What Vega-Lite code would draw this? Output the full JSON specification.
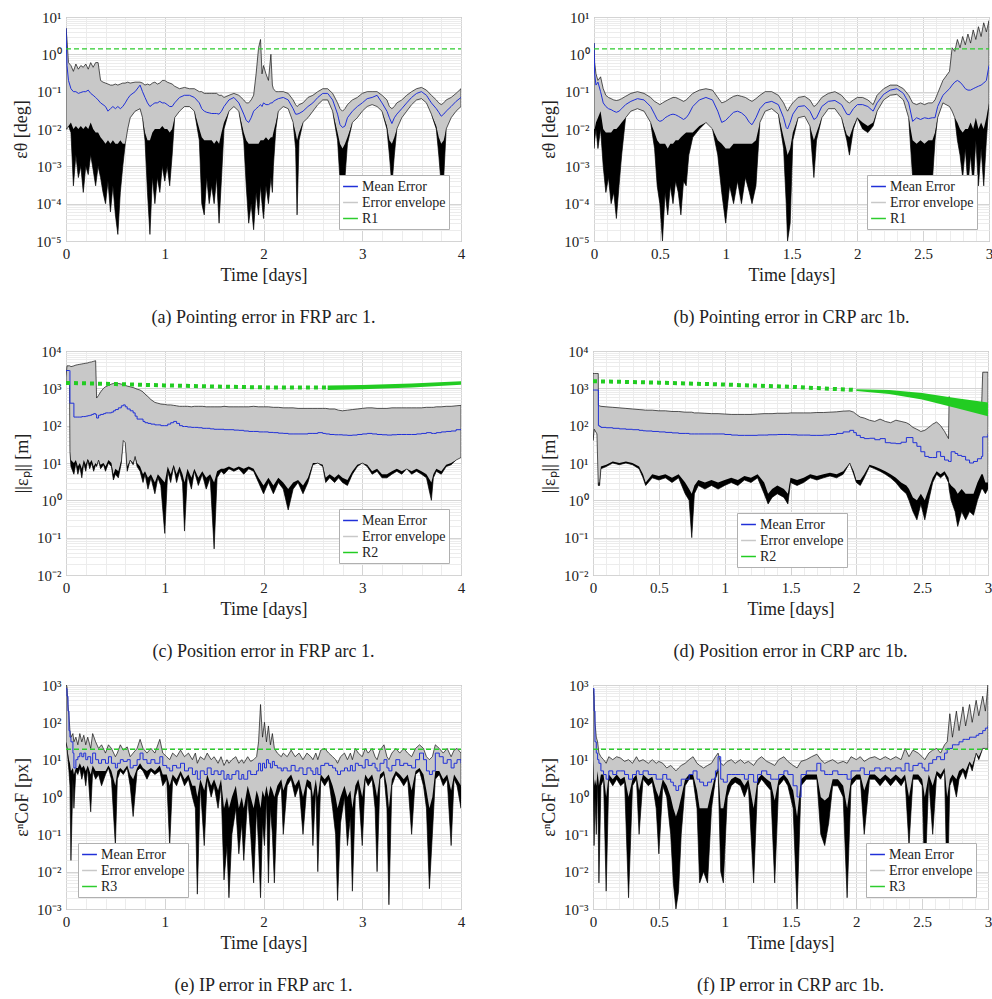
{
"$schema": "https://vega.github.io/schema/vega-lite/v6.json",
"padding": {"left": 12, "top": 9, "right": 2, "bottom": 2},
"datasets": {
"a": [
{"x":0,"h":5,"m":5,"l":0.01,"d":0.01},{"x":0.01,"h":2.5,"m":0.5,"l":0.01,"d":0.01},{"x":0.025,"h":0.6,"m":0.2,"l":0.012,"d":0.012},{"x":0.05,"h":0.5,"m":0.12,"l":0.008,"d":0.015},{"x":0.075,"h":0.35,"m":0.1,"l":0.0003,"d":0.01},{"x":0.1,"h":0.55,"m":0.1,"l":0.002,"d":0.012},{"x":0.125,"h":0.4,"m":0.09,"l":0.0005,"d":0.01},{"x":0.15,"h":0.5,"m":0.095,"l":0.001,"d":0.012},{"x":0.175,"h":0.45,"m":0.1,"l":0.0002,"d":0.01},{"x":0.2,"h":0.55,"m":0.1,"l":0.001,"d":0.012},{"x":0.225,"h":0.4,"m":0.11,"l":0.0006,"d":0.01},{"x":0.25,"h":0.6,"m":0.09,"l":0.002,"d":0.015},{"x":0.275,"h":0.45,"m":0.08,"l":0.0008,"d":0.01},{"x":0.3,"h":0.6,"m":0.07,"l":0.0003,"d":0.008},{"x":0.325,"h":0.6,"m":0.06,"l":0.001,"d":0.008},{"x":0.35,"h":0.2,"m":0.05,"l":0.0005,"d":0.006},{"x":0.375,"h":0.18,"m":0.045,"l":0.0002,"d":0.005},{"x":0.4,"h":0.17,"m":0.04,"l":0.0001,"d":0.004},{"x":0.425,"h":0.16,"m":0.03,"l":0.0004,"d":0.005},{"x":0.45,"h":0.15,"m":0.035,"l":0.00006,"d":0.004},{"x":0.475,"h":0.15,"m":0.04,"l":0.0003,"d":0.005},{"x":0.5,"h":0.16,"m":0.035,"l":0.00005,"d":0.004},{"x":0.525,"h":0.15,"m":0.04,"l":0.000015,"d":0.004},{"x":0.55,"h":0.16,"m":0.035,"l":0.0002,"d":0.005},{"x":0.575,"h":0.17,"m":0.04,"l":0.001,"d":0.004},{"x":0.6,"h":0.17,"m":0.05,"l":0.004,"d":0.004},{"x":0.625,"h":0.18,"m":0.065,"l":0.01,"d":0.01},{"x":0.65,"h":0.17,"m":0.08,"l":0.02,"d":0.02},{"x":0.7,"h":0.18,"m":0.1,"l":0.03,"d":0.03},{"x":0.75,"h":0.18,"m":0.15,"l":0.035,"d":0.035},{"x":0.775,"h":0.17,"m":0.1,"l":0.02,"d":0.02},{"x":0.8,"h":0.15,"m":0.07,"l":0.005,"d":0.008},{"x":0.825,"h":0.16,"m":0.05,"l":0.0002,"d":0.005},{"x":0.85,"h":0.15,"m":0.04,"l":0.000015,"d":0.005},{"x":0.875,"h":0.17,"m":0.045,"l":0.0005,"d":0.008},{"x":0.9,"h":0.18,"m":0.05,"l":0.0001,"d":0.01},{"x":0.925,"h":0.16,"m":0.05,"l":0.0005,"d":0.01},{"x":0.95,"h":0.17,"m":0.055,"l":0.0002,"d":0.01},{"x":0.975,"h":0.2,"m":0.05,"l":0.001,"d":0.012},{"x":1,"h":0.2,"m":0.05,"l":0.0004,"d":0.01},{"x":1.025,"h":0.18,"m":0.045,"l":0.001,"d":0.01},{"x":1.05,"h":0.17,"m":0.04,"l":0.0003,"d":0.008},{"x":1.075,"h":0.16,"m":0.04,"l":0.002,"d":0.01},{"x":1.1,"h":0.14,"m":0.05,"l":0.02,"d":0.02},{"x":1.15,"h":0.12,"m":0.07,"l":0.03,"d":0.03},{"x":1.2,"h":0.13,"m":0.08,"l":0.04,"d":0.04},{"x":1.25,"h":0.12,"m":0.08,"l":0.04,"d":0.04},{"x":1.3,"h":0.12,"m":0.07,"l":0.03,"d":0.03},{"x":1.35,"h":0.1,"m":0.05,"l":0.005,"d":0.01},{"x":1.375,"h":0.1,"m":0.035,"l":0.0001,"d":0.006},{"x":1.4,"h":0.09,"m":0.03,"l":0.00005,"d":0.005},{"x":1.425,"h":0.09,"m":0.028,"l":0.0005,"d":0.005},{"x":1.45,"h":0.09,"m":0.027,"l":0.0001,"d":0.005},{"x":1.475,"h":0.09,"m":0.026,"l":0.0003,"d":0.005},{"x":1.5,"h":0.09,"m":0.026,"l":0.0001,"d":0.004},{"x":1.525,"h":0.09,"m":0.026,"l":0.0005,"d":0.005},{"x":1.55,"h":0.08,"m":0.025,"l":0.00003,"d":0.004},{"x":1.575,"h":0.08,"m":0.03,"l":0.0005,"d":0.008},{"x":1.6,"h":0.07,"m":0.04,"l":0.01,"d":0.015},{"x":1.65,"h":0.08,"m":0.06,"l":0.03,"d":0.03},{"x":1.7,"h":0.09,"m":0.07,"l":0.04,"d":0.04},{"x":1.75,"h":0.08,"m":0.05,"l":0.03,"d":0.03},{"x":1.8,"h":0.06,"m":0.025,"l":0.005,"d":0.008},{"x":1.825,"h":0.05,"m":0.017,"l":0.0003,"d":0.005},{"x":1.85,"h":0.05,"m":0.015,"l":0.00003,"d":0.004},{"x":1.875,"h":0.06,"m":0.02,"l":0.0001,"d":0.004},{"x":1.9,"h":0.08,"m":0.03,"l":0.00002,"d":0.004},{"x":1.925,"h":0.3,"m":0.035,"l":0.0002,"d":0.004},{"x":1.95,"h":1.5,"m":0.04,"l":0.00005,"d":0.004},{"x":1.97,"h":2.5,"m":0.045,"l":0.0003,"d":0.005},{"x":1.985,"h":0.3,"m":0.04,"l":0.0001,"d":0.005},{"x":2,"h":0.5,"m":0.05,"l":0.00004,"d":0.005},{"x":2.025,"h":0.3,"m":0.045,"l":0.0003,"d":0.006},{"x":2.05,"h":0.2,"m":0.045,"l":0.0001,"d":0.005},{"x":2.075,"h":1,"m":0.05,"l":0.0005,"d":0.006},{"x":2.09,"h":0.15,"m":0.05,"l":0.0002,"d":0.006},{"x":2.1,"h":0.12,"m":0.055,"l":0.001,"d":0.008},{"x":2.125,"h":0.1,"m":0.06,"l":0.01,"d":0.015},{"x":2.15,"h":0.1,"m":0.065,"l":0.03,"d":0.03},{"x":2.2,"h":0.1,"m":0.07,"l":0.04,"d":0.04},{"x":2.25,"h":0.09,"m":0.06,"l":0.035,"d":0.035},{"x":2.3,"h":0.06,"m":0.035,"l":0.015,"d":0.015},{"x":2.325,"h":0.045,"m":0.025,"l":0.003,"d":0.008},{"x":2.34,"h":0.04,"m":0.025,"l":0.00005,"d":0.005},{"x":2.36,"h":0.045,"m":0.026,"l":0.005,"d":0.008},{"x":2.4,"h":0.05,"m":0.03,"l":0.015,"d":0.015},{"x":2.45,"h":0.07,"m":0.04,"l":0.02,"d":0.02},{"x":2.5,"h":0.08,"m":0.05,"l":0.03,"d":0.03},{"x":2.55,"h":0.1,"m":0.07,"l":0.045,"d":0.045},{"x":2.6,"h":0.12,"m":0.09,"l":0.06,"d":0.06},{"x":2.65,"h":0.12,"m":0.09,"l":0.06,"d":0.06},{"x":2.7,"h":0.09,"m":0.06,"l":0.03,"d":0.03},{"x":2.75,"h":0.05,"m":0.025,"l":0.005,"d":0.008},{"x":2.775,"h":0.035,"m":0.013,"l":0.0004,"d":0.004},{"x":2.8,"h":0.03,"m":0.011,"l":0.0003,"d":0.003},{"x":2.825,"h":0.035,"m":0.012,"l":0.0005,"d":0.004},{"x":2.85,"h":0.045,"m":0.02,"l":0.004,"d":0.006},{"x":2.9,"h":0.06,"m":0.03,"l":0.015,"d":0.015},{"x":2.95,"h":0.07,"m":0.04,"l":0.02,"d":0.02},{"x":3,"h":0.09,"m":0.05,"l":0.03,"d":0.03},{"x":3.05,"h":0.1,"m":0.065,"l":0.04,"d":0.04},{"x":3.1,"h":0.1,"m":0.07,"l":0.045,"d":0.045},{"x":3.15,"h":0.1,"m":0.08,"l":0.04,"d":0.04},{"x":3.2,"h":0.08,"m":0.05,"l":0.03,"d":0.03},{"x":3.25,"h":0.06,"m":0.03,"l":0.01,"d":0.012},{"x":3.275,"h":0.04,"m":0.02,"l":0.002,"d":0.005},{"x":3.3,"h":0.035,"m":0.014,"l":0.0003,"d":0.004},{"x":3.325,"h":0.04,"m":0.02,"l":0.002,"d":0.006},{"x":3.35,"h":0.05,"m":0.025,"l":0.01,"d":0.01},{"x":3.4,"h":0.06,"m":0.035,"l":0.02,"d":0.02},{"x":3.45,"h":0.08,"m":0.05,"l":0.03,"d":0.03},{"x":3.5,"h":0.1,"m":0.07,"l":0.045,"d":0.045},{"x":3.55,"h":0.12,"m":0.09,"l":0.06,"d":0.06},{"x":3.6,"h":0.13,"m":0.1,"l":0.065,"d":0.065},{"x":3.65,"h":0.11,"m":0.08,"l":0.05,"d":0.05},{"x":3.7,"h":0.08,"m":0.05,"l":0.025,"d":0.025},{"x":3.75,"h":0.06,"m":0.035,"l":0.01,"d":0.012},{"x":3.775,"h":0.05,"m":0.028,"l":0.002,"d":0.006},{"x":3.8,"h":0.045,"m":0.022,"l":0.0003,"d":0.004},{"x":3.825,"h":0.05,"m":0.025,"l":0.0005,"d":0.005},{"x":3.85,"h":0.06,"m":0.03,"l":0.01,"d":0.01},{"x":3.9,"h":0.07,"m":0.04,"l":0.02,"d":0.02},{"x":3.95,"h":0.09,"m":0.055,"l":0.03,"d":0.03},{"x":4,"h":0.12,"m":0.07,"l":0.04,"d":0.04}
],
"b": [
{"x":0,"h":2,"m":2,"l":0.003,"d":0.01},{"x":0.005,"h":0.6,"m":0.3,"l":0.005,"d":0.01},{"x":0.015,"h":0.3,"m":0.15,"l":0.01,"d":0.015},{"x":0.03,"h":0.2,"m":0.18,"l":0.003,"d":0.02},{"x":0.05,"h":0.25,"m":0.1,"l":0.01,"d":0.03},{"x":0.07,"h":0.12,"m":0.05,"l":0.001,"d":0.01},{"x":0.09,"h":0.08,"m":0.04,"l":0.0002,"d":0.008},{"x":0.11,"h":0.07,"m":0.035,"l":0.0005,"d":0.008},{"x":0.13,"h":0.065,"m":0.033,"l":0.0001,"d":0.008},{"x":0.15,"h":0.06,"m":0.03,"l":0.0002,"d":0.01},{"x":0.17,"h":0.058,"m":0.028,"l":0.00004,"d":0.01},{"x":0.19,"h":0.06,"m":0.03,"l":0.0003,"d":0.012},{"x":0.21,"h":0.065,"m":0.035,"l":0.002,"d":0.015},{"x":0.24,"h":0.075,"m":0.045,"l":0.02,"d":0.02},{"x":0.28,"h":0.09,"m":0.055,"l":0.03,"d":0.03},{"x":0.33,"h":0.1,"m":0.065,"l":0.035,"d":0.035},{"x":0.38,"h":0.09,"m":0.06,"l":0.03,"d":0.03},{"x":0.43,"h":0.07,"m":0.04,"l":0.015,"d":0.015},{"x":0.46,"h":0.055,"m":0.025,"l":0.003,"d":0.008},{"x":0.48,"h":0.05,"m":0.018,"l":0.0003,"d":0.005},{"x":0.5,"h":0.045,"m":0.016,"l":0.0001,"d":0.004},{"x":0.52,"h":0.05,"m":0.017,"l":0.00001,"d":0.004},{"x":0.54,"h":0.055,"m":0.02,"l":0.0002,"d":0.004},{"x":0.56,"h":0.06,"m":0.022,"l":0.00005,"d":0.003},{"x":0.58,"h":0.065,"m":0.024,"l":0.0003,"d":0.004},{"x":0.6,"h":0.07,"m":0.025,"l":0.0001,"d":0.004},{"x":0.62,"h":0.07,"m":0.024,"l":0.0004,"d":0.005},{"x":0.64,"h":0.065,"m":0.022,"l":0.0002,"d":0.005},{"x":0.66,"h":0.06,"m":0.02,"l":0.00005,"d":0.006},{"x":0.68,"h":0.055,"m":0.018,"l":0.0004,"d":0.007},{"x":0.7,"h":0.06,"m":0.02,"l":0.0003,"d":0.008},{"x":0.72,"h":0.07,"m":0.025,"l":0.002,"d":0.008},{"x":0.75,"h":0.09,"m":0.04,"l":0.006,"d":0.008},{"x":0.8,"h":0.11,"m":0.06,"l":0.01,"d":0.012},{"x":0.85,"h":0.12,"m":0.07,"l":0.015,"d":0.015},{"x":0.9,"h":0.11,"m":0.06,"l":0.01,"d":0.01},{"x":0.94,"h":0.07,"m":0.03,"l":0.002,"d":0.005},{"x":0.97,"h":0.05,"m":0.015,"l":0.0002,"d":0.004},{"x":1,"h":0.055,"m":0.017,"l":0.00003,"d":0.003},{"x":1.03,"h":0.065,"m":0.022,"l":0.0003,"d":0.003},{"x":1.06,"h":0.075,"m":0.028,"l":0.0001,"d":0.004},{"x":1.09,"h":0.08,"m":0.03,"l":0.0004,"d":0.004},{"x":1.12,"h":0.075,"m":0.027,"l":0.0001,"d":0.004},{"x":1.15,"h":0.07,"m":0.022,"l":0.0005,"d":0.004},{"x":1.18,"h":0.06,"m":0.015,"l":0.0002,"d":0.004},{"x":1.2,"h":0.055,"m":0.013,"l":0.0001,"d":0.004},{"x":1.23,"h":0.065,"m":0.02,"l":0.0003,"d":0.005},{"x":1.26,"h":0.08,"m":0.035,"l":0.015,"d":0.015},{"x":1.3,"h":0.1,"m":0.05,"l":0.03,"d":0.03},{"x":1.35,"h":0.1,"m":0.055,"l":0.035,"d":0.035},{"x":1.4,"h":0.08,"m":0.045,"l":0.025,"d":0.025},{"x":1.44,"h":0.05,"m":0.02,"l":0.003,"d":0.006},{"x":1.46,"h":0.035,"m":0.011,"l":0.0001,"d":0.003},{"x":1.47,"h":0.03,"m":0.01,"l":0.00001,"d":0.002},{"x":1.49,"h":0.04,"m":0.015,"l":0.00003,"d":0.003},{"x":1.51,"h":0.05,"m":0.025,"l":0.005,"d":0.008},{"x":1.55,"h":0.07,"m":0.04,"l":0.02,"d":0.02},{"x":1.6,"h":0.075,"m":0.042,"l":0.022,"d":0.022},{"x":1.64,"h":0.06,"m":0.03,"l":0.012,"d":0.012},{"x":1.67,"h":0.04,"m":0.018,"l":0.0005,"d":0.005},{"x":1.69,"h":0.045,"m":0.02,"l":0.005,"d":0.008},{"x":1.73,"h":0.07,"m":0.04,"l":0.02,"d":0.02},{"x":1.78,"h":0.09,"m":0.055,"l":0.035,"d":0.035},{"x":1.83,"h":0.1,"m":0.058,"l":0.035,"d":0.035},{"x":1.88,"h":0.08,"m":0.045,"l":0.02,"d":0.02},{"x":1.92,"h":0.055,"m":0.025,"l":0.005,"d":0.007},{"x":1.94,"h":0.05,"m":0.024,"l":0.002,"d":0.006},{"x":1.97,"h":0.06,"m":0.035,"l":0.01,"d":0.012},{"x":2,"h":0.07,"m":0.045,"l":0.02,"d":0.02},{"x":2.04,"h":0.07,"m":0.045,"l":0.01,"d":0.015},{"x":2.08,"h":0.06,"m":0.04,"l":0.008,"d":0.012},{"x":2.12,"h":0.045,"m":0.03,"l":0.012,"d":0.015},{"x":2.15,"h":0.08,"m":0.05,"l":0.03,"d":0.03},{"x":2.2,"h":0.12,"m":0.085,"l":0.06,"d":0.06},{"x":2.25,"h":0.15,"m":0.11,"l":0.08,"d":0.08},{"x":2.3,"h":0.15,"m":0.12,"l":0.085,"d":0.085},{"x":2.35,"h":0.12,"m":0.09,"l":0.06,"d":0.06},{"x":2.39,"h":0.08,"m":0.05,"l":0.02,"d":0.02},{"x":2.42,"h":0.05,"m":0.016,"l":0.0005,"d":0.005},{"x":2.45,"h":0.045,"m":0.02,"l":0.0003,"d":0.004},{"x":2.48,"h":0.05,"m":0.018,"l":0.0005,"d":0.005},{"x":2.51,"h":0.045,"m":0.02,"l":0.0003,"d":0.004},{"x":2.54,"h":0.05,"m":0.019,"l":0.0005,"d":0.005},{"x":2.57,"h":0.05,"m":0.02,"l":0.0004,"d":0.005},{"x":2.59,"h":0.06,"m":0.02,"l":0.005,"d":0.008},{"x":2.61,"h":0.09,"m":0.04,"l":0.02,"d":0.02},{"x":2.65,"h":0.2,"m":0.08,"l":0.05,"d":0.05},{"x":2.7,"h":0.35,"m":0.12,"l":0.04,"d":0.04},{"x":2.72,"h":1.5,"m":0.15,"l":0.03,"d":0.03},{"x":2.74,"h":1.2,"m":0.18,"l":0.02,"d":0.02},{"x":2.76,"h":2.5,"m":0.2,"l":0.005,"d":0.015},{"x":2.78,"h":1.5,"m":0.18,"l":0.002,"d":0.01},{"x":2.8,"h":3,"m":0.15,"l":0.0005,"d":0.008},{"x":2.82,"h":1.8,"m":0.12,"l":0.003,"d":0.01},{"x":2.84,"h":3.5,"m":0.11,"l":0.0003,"d":0.01},{"x":2.86,"h":2,"m":0.11,"l":0.002,"d":0.015},{"x":2.88,"h":4.5,"m":0.12,"l":0.0003,"d":0.01},{"x":2.9,"h":2.5,"m":0.13,"l":0.005,"d":0.02},{"x":2.92,"h":5.5,"m":0.14,"l":0.0003,"d":0.01},{"x":2.94,"h":3,"m":0.15,"l":0.003,"d":0.015},{"x":2.96,"h":7,"m":0.17,"l":0.0003,"d":0.01},{"x":2.98,"h":4,"m":0.2,"l":0.005,"d":0.02},{"x":3,"h":8,"m":0.5,"l":0.05,"d":0.05}
],
"c": [
{"x":0,"h":2000,"m":3000,"l":1500,"d":1500},{"x":0.01,"h":4000,"m":3000,"l":1500,"d":1500},{"x":0.035,"h":4000,"m":3000,"l":1500,"d":1500},{"x":0.04,"h":4000,"m":400,"l":20,"d":20},{"x":0.05,"h":3800,"m":400,"l":8,"d":12},{"x":0.08,"h":4000,"m":170,"l":5,"d":10},{"x":0.1,"h":4200,"m":170,"l":10,"d":12},{"x":0.12,"h":4300,"m":170,"l":5,"d":8},{"x":0.14,"h":4400,"m":170,"l":8,"d":10},{"x":0.16,"h":4500,"m":175,"l":4,"d":7},{"x":0.18,"h":4600,"m":175,"l":10,"d":12},{"x":0.2,"h":4700,"m":180,"l":6,"d":9},{"x":0.22,"h":4800,"m":185,"l":12,"d":13},{"x":0.24,"h":5000,"m":190,"l":7,"d":10},{"x":0.26,"h":5100,"m":200,"l":10,"d":12},{"x":0.28,"h":5300,"m":210,"l":6,"d":8},{"x":0.3,"h":5500,"m":200,"l":9,"d":10},{"x":0.31,"h":550,"m":160,"l":8,"d":9},{"x":0.33,"h":650,"m":190,"l":12,"d":12},{"x":0.35,"h":800,"m":200,"l":7,"d":9},{"x":0.38,"h":1000,"m":210,"l":9,"d":10},{"x":0.4,"h":1100,"m":220,"l":6,"d":8},{"x":0.43,"h":1200,"m":220,"l":10,"d":12},{"x":0.46,"h":1300,"m":230,"l":8,"d":10},{"x":0.48,"h":1350,"m":250,"l":3.5,"d":5},{"x":0.5,"h":1400,"m":270,"l":5,"d":7},{"x":0.53,"h":1350,"m":300,"l":4,"d":6},{"x":0.56,"h":1300,"m":340,"l":10,"d":12},{"x":0.58,"h":1250,"m":360,"l":40,"d":40},{"x":0.6,"h":1200,"m":320,"l":35,"d":35},{"x":0.62,"h":1150,"m":280,"l":6,"d":8},{"x":0.65,"h":1100,"m":250,"l":12,"d":12},{"x":0.68,"h":1050,"m":220,"l":9,"d":10},{"x":0.7,"h":1000,"m":180,"l":15,"d":15},{"x":0.72,"h":950,"m":150,"l":8,"d":10},{"x":0.75,"h":900,"m":150,"l":6,"d":8},{"x":0.78,"h":800,"m":130,"l":3,"d":5},{"x":0.8,"h":700,"m":120,"l":5,"d":6},{"x":0.83,"h":600,"m":115,"l":2,"d":4},{"x":0.86,"h":500,"m":110,"l":4,"d":5},{"x":0.9,"h":420,"m":105,"l":1.5,"d":3},{"x":0.93,"h":400,"m":105,"l":4,"d":5},{"x":0.96,"h":380,"m":100,"l":2.5,"d":4},{"x":1,"h":370,"m":100,"l":0.13,"d":3},{"x":1.03,"h":360,"m":110,"l":6,"d":8},{"x":1.06,"h":360,"m":120,"l":3,"d":5},{"x":1.09,"h":350,"m":130,"l":8,"d":9},{"x":1.12,"h":340,"m":115,"l":3,"d":5},{"x":1.15,"h":330,"m":100,"l":6,"d":8},{"x":1.18,"h":330,"m":95,"l":3,"d":5},{"x":1.2,"h":330,"m":95,"l":0.15,"d":3},{"x":1.23,"h":330,"m":92,"l":5,"d":7},{"x":1.27,"h":320,"m":90,"l":2,"d":4},{"x":1.3,"h":330,"m":90,"l":6,"d":7},{"x":1.34,"h":330,"m":88,"l":2.5,"d":4},{"x":1.38,"h":330,"m":85,"l":5,"d":6},{"x":1.42,"h":320,"m":85,"l":2,"d":4},{"x":1.46,"h":320,"m":82,"l":4,"d":5},{"x":1.5,"h":320,"m":80,"l":0.05,"d":3},{"x":1.53,"h":320,"m":80,"l":4,"d":6},{"x":1.57,"h":320,"m":80,"l":6,"d":7},{"x":1.6,"h":330,"m":78,"l":5,"d":7},{"x":1.65,"h":320,"m":78,"l":7,"d":8},{"x":1.7,"h":320,"m":76,"l":6,"d":7},{"x":1.75,"h":320,"m":75,"l":7,"d":8},{"x":1.8,"h":320,"m":72,"l":5,"d":7},{"x":1.85,"h":320,"m":70,"l":7,"d":8},{"x":1.9,"h":330,"m":70,"l":6,"d":7},{"x":1.95,"h":320,"m":68,"l":3,"d":4},{"x":2,"h":320,"m":68,"l":1.5,"d":2.5},{"x":2.05,"h":320,"m":66,"l":3,"d":4},{"x":2.1,"h":310,"m":65,"l":1.5,"d":2.5},{"x":2.15,"h":310,"m":63,"l":3,"d":4},{"x":2.2,"h":300,"m":62,"l":2,"d":3},{"x":2.25,"h":300,"m":60,"l":0.55,"d":2},{"x":2.3,"h":300,"m":60,"l":2,"d":3},{"x":2.35,"h":290,"m":60,"l":3,"d":3.5},{"x":2.4,"h":290,"m":60,"l":1.5,"d":2.5},{"x":2.45,"h":290,"m":62,"l":3,"d":4},{"x":2.5,"h":290,"m":62,"l":9,"d":10},{"x":2.55,"h":290,"m":65,"l":10,"d":10},{"x":2.6,"h":290,"m":62,"l":8,"d":9},{"x":2.63,"h":290,"m":60,"l":3,"d":4},{"x":2.67,"h":280,"m":58,"l":4,"d":5},{"x":2.72,"h":280,"m":57,"l":3,"d":4},{"x":2.76,"h":260,"m":57,"l":4,"d":5},{"x":2.8,"h":250,"m":56,"l":3,"d":4},{"x":2.85,"h":260,"m":55,"l":2.5,"d":3.5},{"x":2.9,"h":270,"m":56,"l":5,"d":6},{"x":2.95,"h":280,"m":58,"l":8,"d":9},{"x":3,"h":290,"m":60,"l":10,"d":10},{"x":3.05,"h":300,"m":62,"l":8,"d":9},{"x":3.1,"h":300,"m":60,"l":5,"d":6},{"x":3.15,"h":290,"m":58,"l":6,"d":7},{"x":3.2,"h":290,"m":57,"l":4,"d":5},{"x":3.25,"h":290,"m":56,"l":4,"d":5},{"x":3.3,"h":300,"m":57,"l":5,"d":6},{"x":3.35,"h":300,"m":58,"l":6,"d":7},{"x":3.4,"h":300,"m":58,"l":5,"d":6},{"x":3.45,"h":300,"m":58,"l":7,"d":7},{"x":3.5,"h":300,"m":58,"l":5,"d":6},{"x":3.55,"h":300,"m":60,"l":6,"d":7},{"x":3.6,"h":300,"m":62,"l":5,"d":6},{"x":3.65,"h":310,"m":65,"l":4,"d":5},{"x":3.7,"h":310,"m":62,"l":1,"d":3},{"x":3.72,"h":310,"m":62,"l":4,"d":5},{"x":3.75,"h":320,"m":65,"l":6,"d":7},{"x":3.8,"h":320,"m":68,"l":5,"d":6},{"x":3.85,"h":330,"m":70,"l":8,"d":9},{"x":3.9,"h":330,"m":72,"l":9,"d":10},{"x":3.95,"h":340,"m":78,"l":12,"d":12},{"x":4,"h":350,"m":82,"l":14,"d":14}
],
"d": [
{"x":0,"h":2500,"m":900,"l":40,"d":40},{"x":0.01,"h":2500,"m":900,"l":80,"d":80},{"x":0.03,"h":2500,"m":900,"l":60,"d":60},{"x":0.04,"h":2500,"m":900,"l":2.5,"d":2.5},{"x":0.041,"h":350,"m":100,"l":2.5,"d":3},{"x":0.05,"h":340,"m":95,"l":2.5,"d":3},{"x":0.06,"h":330,"m":90,"l":7,"d":8},{"x":0.1,"h":320,"m":88,"l":8,"d":9},{"x":0.15,"h":310,"m":85,"l":10,"d":11},{"x":0.2,"h":300,"m":82,"l":9,"d":10},{"x":0.25,"h":290,"m":80,"l":10,"d":11},{"x":0.3,"h":280,"m":78,"l":9,"d":10},{"x":0.35,"h":270,"m":75,"l":7,"d":8},{"x":0.38,"h":265,"m":73,"l":4,"d":5},{"x":0.4,"h":260,"m":72,"l":2.5,"d":3},{"x":0.45,"h":260,"m":70,"l":4,"d":5},{"x":0.5,"h":250,"m":68,"l":3.5,"d":4.5},{"x":0.55,"h":250,"m":66,"l":4,"d":5},{"x":0.6,"h":240,"m":64,"l":3,"d":4},{"x":0.65,"h":240,"m":62,"l":4,"d":5},{"x":0.7,"h":230,"m":62,"l":1.5,"d":3},{"x":0.73,"h":230,"m":60,"l":1,"d":2},{"x":0.75,"h":230,"m":60,"l":0.1,"d":1.5},{"x":0.77,"h":220,"m":60,"l":1.5,"d":2.5},{"x":0.8,"h":220,"m":60,"l":2.5,"d":3.5},{"x":0.85,"h":215,"m":60,"l":2,"d":3},{"x":0.9,"h":210,"m":60,"l":2.5,"d":3.5},{"x":0.95,"h":210,"m":60,"l":2,"d":3},{"x":1,"h":205,"m":58,"l":2.5,"d":3.5},{"x":1.05,"h":200,"m":56,"l":3,"d":4},{"x":1.1,"h":200,"m":55,"l":2.5,"d":3.5},{"x":1.15,"h":200,"m":55,"l":3.5,"d":4.5},{"x":1.2,"h":200,"m":55,"l":3,"d":4},{"x":1.25,"h":205,"m":56,"l":4,"d":5},{"x":1.3,"h":210,"m":56,"l":1.5,"d":3},{"x":1.33,"h":210,"m":57,"l":0.8,"d":1.5},{"x":1.36,"h":210,"m":57,"l":1.2,"d":2},{"x":1.4,"h":215,"m":58,"l":1.5,"d":2.5},{"x":1.45,"h":215,"m":58,"l":1.2,"d":2},{"x":1.48,"h":215,"m":58,"l":0.8,"d":1.5},{"x":1.5,"h":220,"m":57,"l":3,"d":4},{"x":1.55,"h":220,"m":56,"l":2.5,"d":3.5},{"x":1.6,"h":220,"m":56,"l":3,"d":4},{"x":1.65,"h":220,"m":55,"l":4,"d":5},{"x":1.7,"h":225,"m":55,"l":3.5,"d":4.5},{"x":1.75,"h":225,"m":56,"l":4,"d":5},{"x":1.8,"h":230,"m":58,"l":4.5,"d":5.5},{"x":1.85,"h":235,"m":62,"l":4,"d":5},{"x":1.9,"h":245,"m":68,"l":5,"d":6},{"x":1.95,"h":250,"m":75,"l":10,"d":10},{"x":1.98,"h":230,"m":65,"l":5,"d":6},{"x":2,"h":200,"m":55,"l":3,"d":3.5},{"x":2.03,"h":170,"m":48,"l":2.5,"d":3.5},{"x":2.06,"h":160,"m":45,"l":4,"d":5},{"x":2.1,"h":140,"m":46,"l":8,"d":9},{"x":2.14,"h":130,"m":42,"l":7,"d":8},{"x":2.18,"h":150,"m":45,"l":6,"d":7},{"x":2.22,"h":130,"m":35,"l":5,"d":6},{"x":2.26,"h":120,"m":34,"l":4,"d":5},{"x":2.3,"h":140,"m":33,"l":3,"d":4},{"x":2.34,"h":130,"m":36,"l":2,"d":3},{"x":2.38,"h":120,"m":48,"l":1.5,"d":2.5},{"x":2.4,"h":110,"m":48,"l":1,"d":2},{"x":2.43,"h":90,"m":35,"l":0.5,"d":1.2},{"x":2.46,"h":80,"m":28,"l":0.3,"d":1},{"x":2.49,"h":70,"m":20,"l":0.8,"d":1.5},{"x":2.52,"h":75,"m":15,"l":0.3,"d":1},{"x":2.55,"h":90,"m":14,"l":1,"d":2},{"x":2.58,"h":110,"m":14,"l":3,"d":4},{"x":2.61,"h":125,"m":20,"l":5,"d":6},{"x":2.64,"h":100,"m":15,"l":4,"d":5},{"x":2.67,"h":70,"m":12,"l":5,"d":6},{"x":2.7,"h":45,"m":11,"l":3,"d":4},{"x":2.705,"h":600,"m":11,"l":2,"d":3},{"x":2.72,"h":400,"m":20,"l":1,"d":2.5},{"x":2.75,"h":380,"m":18,"l":0.5,"d":2},{"x":2.77,"h":350,"m":16,"l":0.2,"d":1.5},{"x":2.8,"h":330,"m":15,"l":0.5,"d":2},{"x":2.83,"h":300,"m":12,"l":0.3,"d":1.5},{"x":2.86,"h":280,"m":10,"l":0.5,"d":1.5},{"x":2.89,"h":260,"m":11,"l":0.4,"d":1.5},{"x":2.92,"h":240,"m":13,"l":1,"d":3},{"x":2.95,"h":230,"m":15,"l":2,"d":5},{"x":2.96,"h":2700,"m":50,"l":2,"d":5},{"x":2.98,"h":2700,"m":50,"l":1.5,"d":3},{"x":3,"h":2700,"m":60,"l":2,"d":3}
],
"e": [
{"x":0,"h":1000,"m":800,"l":30,"d":30},{"x":0.01,"h":900,"m":500,"l":20,"d":25},{"x":0.02,"h":300,"m":200,"l":10,"d":15},{"x":0.03,"h":150,"m":60,"l":5,"d":10},{"x":0.04,"h":60,"m":40,"l":2,"d":8},{"x":0.05,"h":40,"m":30,"l":0.02,"d":5},{"x":0.07,"h":50,"m":15,"l":3,"d":6},{"x":0.08,"h":30,"m":6,"l":0.5,"d":4},{"x":0.1,"h":40,"m":10,"l":5,"d":6},{"x":0.12,"h":25,"m":12,"l":4,"d":6},{"x":0.14,"h":50,"m":15,"l":6,"d":8},{"x":0.16,"h":30,"m":12,"l":3,"d":6},{"x":0.18,"h":45,"m":15,"l":5,"d":7},{"x":0.2,"h":25,"m":10,"l":2,"d":5},{"x":0.22,"h":40,"m":12,"l":6,"d":7},{"x":0.25,"h":20,"m":8,"l":0.4,"d":4},{"x":0.27,"h":50,"m":15,"l":5,"d":7},{"x":0.3,"h":30,"m":10,"l":3,"d":5},{"x":0.33,"h":20,"m":8,"l":4,"d":5},{"x":0.36,"h":25,"m":10,"l":2,"d":5},{"x":0.4,"h":15,"m":8,"l":4,"d":5},{"x":0.43,"h":25,"m":12,"l":6,"d":7},{"x":0.46,"h":20,"m":8,"l":3,"d":5},{"x":0.5,"h":12,"m":6,"l":0.05,"d":2},{"x":0.52,"h":15,"m":8,"l":3,"d":5},{"x":0.55,"h":25,"m":10,"l":5,"d":6},{"x":0.58,"h":18,"m":9,"l":4,"d":5},{"x":0.62,"h":22,"m":10,"l":6,"d":7},{"x":0.65,"h":12,"m":6,"l":2,"d":4},{"x":0.68,"h":15,"m":7,"l":0.3,"d":3},{"x":0.72,"h":20,"m":10,"l":5,"d":6},{"x":0.75,"h":35,"m":15,"l":6,"d":8},{"x":0.78,"h":20,"m":10,"l":5,"d":6},{"x":0.82,"h":15,"m":8,"l":3,"d":5},{"x":0.86,"h":20,"m":10,"l":5,"d":6},{"x":0.9,"h":15,"m":8,"l":4,"d":5},{"x":0.95,"h":35,"m":12,"l":5,"d":7},{"x":0.98,"h":15,"m":7,"l":2,"d":4},{"x":1.02,"h":12,"m":6,"l":3,"d":4},{"x":1.05,"h":10,"m":5,"l":0.05,"d":2},{"x":1.08,"h":15,"m":7,"l":3,"d":4},{"x":1.12,"h":12,"m":6,"l":2,"d":3},{"x":1.16,"h":18,"m":8,"l":4,"d":5},{"x":1.2,"h":12,"m":5,"l":2,"d":3},{"x":1.24,"h":15,"m":6,"l":3,"d":4},{"x":1.28,"h":10,"m":4,"l":1,"d":2},{"x":1.31,"h":15,"m":5,"l":0.5,"d":2},{"x":1.33,"h":8,"m":3,"l":0.0025,"d":1},{"x":1.36,"h":12,"m":5,"l":2,"d":3},{"x":1.4,"h":10,"m":4,"l":0.05,"d":1.5},{"x":1.43,"h":15,"m":6,"l":3,"d":4},{"x":1.47,"h":10,"m":4,"l":1,"d":2},{"x":1.5,"h":12,"m":5,"l":2,"d":3},{"x":1.54,"h":8,"m":4,"l":0.5,"d":1.5},{"x":1.57,"h":12,"m":5,"l":2,"d":3},{"x":1.6,"h":7,"m":3,"l":0.006,"d":0.5},{"x":1.63,"h":10,"m":4,"l":0.05,"d":1},{"x":1.65,"h":8,"m":3,"l":0.002,"d":0.5},{"x":1.68,"h":10,"m":4,"l":0.1,"d":1},{"x":1.72,"h":12,"m":5,"l":0.5,"d":2},{"x":1.75,"h":8,"m":3,"l":0.03,"d":0.5},{"x":1.78,"h":10,"m":4,"l":0.2,"d":1},{"x":1.8,"h":8,"m":3,"l":0.02,"d":0.5},{"x":1.84,"h":12,"m":5,"l":1,"d":2},{"x":1.87,"h":9,"m":4,"l":0.1,"d":1},{"x":1.9,"h":10,"m":4,"l":0.005,"d":0.5},{"x":1.93,"h":12,"m":5,"l":0.5,"d":1.5},{"x":1.95,"h":30,"m":8,"l":0.05,"d":1},{"x":1.97,"h":300,"m":5,"l":0.002,"d":0.5},{"x":1.99,"h":40,"m":8,"l":0.2,"d":1.5},{"x":2.01,"h":100,"m":6,"l":0.05,"d":1},{"x":2.03,"h":30,"m":10,"l":1,"d":2},{"x":2.05,"h":80,"m":8,"l":0.005,"d":1},{"x":2.07,"h":25,"m":6,"l":0.5,"d":2},{"x":2.09,"h":50,"m":9,"l":0.1,"d":1.5},{"x":2.11,"h":20,"m":7,"l":0.005,"d":1},{"x":2.14,"h":15,"m":6,"l":1,"d":2},{"x":2.18,"h":12,"m":5,"l":2,"d":3},{"x":2.2,"h":15,"m":6,"l":0.1,"d":1.5},{"x":2.24,"h":12,"m":5,"l":2,"d":3},{"x":2.28,"h":18,"m":7,"l":3,"d":4},{"x":2.32,"h":12,"m":5,"l":1,"d":2},{"x":2.36,"h":15,"m":6,"l":2,"d":3},{"x":2.4,"h":10,"m":4,"l":0.1,"d":1},{"x":2.44,"h":15,"m":6,"l":2,"d":3},{"x":2.48,"h":12,"m":5,"l":1.5,"d":2.5},{"x":2.5,"h":10,"m":4,"l":0.05,"d":1},{"x":2.53,"h":15,"m":6,"l":2,"d":3},{"x":2.55,"h":10,"m":4,"l":0.01,"d":1},{"x":2.58,"h":18,"m":7,"l":3,"d":4},{"x":2.62,"h":20,"m":8,"l":2,"d":3},{"x":2.66,"h":15,"m":7,"l":3,"d":4},{"x":2.7,"h":12,"m":6,"l":0.5,"d":2},{"x":2.73,"h":10,"m":5,"l":0.1,"d":1},{"x":2.75,"h":8,"m":4,"l":0.0017,"d":0.5},{"x":2.78,"h":12,"m":5,"l":0.2,"d":1},{"x":2.82,"h":15,"m":6,"l":1,"d":2},{"x":2.85,"h":10,"m":5,"l":0.05,"d":1},{"x":2.88,"h":15,"m":7,"l":0.3,"d":1.5},{"x":2.9,"h":10,"m":5,"l":0.003,"d":0.5},{"x":2.93,"h":20,"m":8,"l":1,"d":2},{"x":2.96,"h":15,"m":7,"l":2,"d":3},{"x":3,"h":12,"m":6,"l":0.05,"d":1},{"x":3.03,"h":20,"m":10,"l":3,"d":4},{"x":3.06,"h":15,"m":7,"l":2,"d":3},{"x":3.1,"h":20,"m":8,"l":3,"d":4},{"x":3.13,"h":12,"m":6,"l":0.5,"d":2},{"x":3.15,"h":10,"m":5,"l":0.01,"d":1},{"x":3.18,"h":18,"m":8,"l":3,"d":4},{"x":3.22,"h":25,"m":10,"l":4,"d":5},{"x":3.25,"h":12,"m":6,"l":0.5,"d":2},{"x":3.27,"h":10,"m":5,"l":0.0013,"d":0.5},{"x":3.3,"h":15,"m":7,"l":2,"d":3},{"x":3.34,"h":20,"m":10,"l":4,"d":5},{"x":3.38,"h":15,"m":7,"l":3,"d":4},{"x":3.42,"h":20,"m":8,"l":2,"d":3},{"x":3.46,"h":15,"m":7,"l":3,"d":4},{"x":3.5,"h":12,"m":6,"l":0.1,"d":1.5},{"x":3.54,"h":20,"m":10,"l":4,"d":5},{"x":3.58,"h":25,"m":15,"l":5,"d":6},{"x":3.62,"h":20,"m":10,"l":2,"d":4},{"x":3.65,"h":12,"m":5,"l":0.5,"d":1.5},{"x":3.68,"h":10,"m":4,"l":0.0035,"d":0.5},{"x":3.71,"h":12,"m":5,"l":0.1,"d":1},{"x":3.74,"h":25,"m":15,"l":3,"d":5},{"x":3.78,"h":20,"m":12,"l":4,"d":5},{"x":3.82,"h":15,"m":8,"l":2,"d":3},{"x":3.86,"h":20,"m":10,"l":3,"d":4},{"x":3.9,"h":12,"m":6,"l":0.05,"d":1.5},{"x":3.93,"h":18,"m":8,"l":3,"d":4},{"x":3.96,"h":20,"m":10,"l":2,"d":3},{"x":4,"h":15,"m":8,"l":0.5,"d":2}
],
"f": [
{"x":0,"h":800,"m":800,"l":10,"d":10},{"x":0.008,"h":500,"m":200,"l":0.05,"d":2},{"x":0.015,"h":100,"m":30,"l":1,"d":3},{"x":0.025,"h":40,"m":15,"l":0.1,"d":2},{"x":0.035,"h":30,"m":10,"l":3,"d":5},{"x":0.045,"h":15,"m":8,"l":0.005,"d":2},{"x":0.06,"h":12,"m":5,"l":2,"d":4},{"x":0.08,"h":10,"m":4,"l":3,"d":4},{"x":0.1,"h":8,"m":3,"l":0.003,"d":1},{"x":0.12,"h":12,"m":5,"l":3,"d":4},{"x":0.15,"h":10,"m":4,"l":2,"d":3},{"x":0.18,"h":12,"m":5,"l":3,"d":4},{"x":0.21,"h":11,"m":5,"l":2,"d":3},{"x":0.24,"h":9,"m":4,"l":2.5,"d":3.5},{"x":0.27,"h":10,"m":3,"l":0.002,"d":1},{"x":0.3,"h":8,"m":4,"l":2,"d":3},{"x":0.33,"h":12,"m":5,"l":3,"d":4},{"x":0.35,"h":9,"m":4,"l":0.1,"d":1.5},{"x":0.38,"h":10,"m":5,"l":3,"d":4},{"x":0.42,"h":8,"m":4,"l":2,"d":3},{"x":0.45,"h":10,"m":4,"l":2.5,"d":3.5},{"x":0.48,"h":8,"m":3,"l":0.5,"d":1.5},{"x":0.5,"h":9,"m":3,"l":0.03,"d":1},{"x":0.53,"h":8,"m":4,"l":2,"d":3},{"x":0.56,"h":6,"m":3,"l":1,"d":2},{"x":0.59,"h":7,"m":2.5,"l":0.1,"d":1},{"x":0.61,"h":6,"m":2,"l":0.005,"d":0.5},{"x":0.63,"h":5,"m":1.5,"l":0.001,"d":0.3},{"x":0.65,"h":6,"m":2,"l":0.003,"d":0.5},{"x":0.67,"h":7,"m":3,"l":0.1,"d":1},{"x":0.7,"h":8,"m":3,"l":2,"d":3},{"x":0.73,"h":10,"m":4,"l":3,"d":4},{"x":0.76,"h":12,"m":5,"l":3,"d":4},{"x":0.79,"h":8,"m":3,"l":0.5,"d":1.5},{"x":0.81,"h":7,"m":2.5,"l":0.005,"d":0.5},{"x":0.84,"h":6,"m":2,"l":0.01,"d":0.5},{"x":0.87,"h":7,"m":2.5,"l":0.005,"d":0.5},{"x":0.9,"h":8,"m":3,"l":0.5,"d":1.5},{"x":0.93,"h":12,"m":5,"l":3,"d":4},{"x":0.95,"h":15,"m":12,"l":5,"d":6},{"x":0.97,"h":8,"m":3,"l":0.01,"d":0.5},{"x":0.99,"h":7,"m":2.5,"l":0.005,"d":0.5},{"x":1.02,"h":9,"m":4,"l":1,"d":2},{"x":1.05,"h":10,"m":4,"l":2,"d":3},{"x":1.08,"h":8,"m":4,"l":2.5,"d":3.5},{"x":1.12,"h":10,"m":4,"l":2,"d":3},{"x":1.15,"h":8,"m":3,"l":1,"d":2},{"x":1.18,"h":9,"m":4,"l":2,"d":3},{"x":1.22,"h":7,"m":2.5,"l":0.005,"d":0.5},{"x":1.25,"h":10,"m":4,"l":2,"d":3},{"x":1.28,"h":12,"m":5,"l":3,"d":4},{"x":1.32,"h":9,"m":4,"l":2,"d":3},{"x":1.35,"h":8,"m":3,"l":1.5,"d":2.5},{"x":1.38,"h":7,"m":3,"l":0.005,"d":0.8},{"x":1.41,"h":10,"m":4,"l":2,"d":3},{"x":1.45,"h":12,"m":5,"l":3,"d":4},{"x":1.48,"h":9,"m":4,"l":2,"d":3},{"x":1.52,"h":7,"m":2,"l":0.5,"d":1.5},{"x":1.55,"h":6,"m":1,"l":0.001,"d":0.3},{"x":1.58,"h":9,"m":4,"l":2,"d":3},{"x":1.62,"h":10,"m":5,"l":3,"d":4},{"x":1.66,"h":12,"m":5,"l":3,"d":4},{"x":1.7,"h":14,"m":8,"l":3,"d":4},{"x":1.73,"h":10,"m":5,"l":0.1,"d":1},{"x":1.76,"h":8,"m":4,"l":0.05,"d":0.8},{"x":1.79,"h":9,"m":4,"l":0.2,"d":1},{"x":1.82,"h":10,"m":5,"l":2,"d":3},{"x":1.86,"h":8,"m":4,"l":2,"d":3},{"x":1.9,"h":9,"m":4,"l":1,"d":2},{"x":1.93,"h":8,"m":3,"l":0.002,"d":0.5},{"x":1.96,"h":12,"m":5,"l":2,"d":3},{"x":2,"h":10,"m":5,"l":3,"d":4},{"x":2.03,"h":12,"m":6,"l":3,"d":4},{"x":2.06,"h":9,"m":4,"l":0.1,"d":1.5},{"x":2.1,"h":11,"m":5,"l":3,"d":4},{"x":2.14,"h":12,"m":6,"l":3,"d":4},{"x":2.18,"h":10,"m":5,"l":2,"d":3},{"x":2.22,"h":12,"m":6,"l":3,"d":4},{"x":2.26,"h":10,"m":5,"l":2,"d":3},{"x":2.3,"h":12,"m":6,"l":3,"d":4},{"x":2.34,"h":10,"m":5,"l":2,"d":3},{"x":2.37,"h":20,"m":8,"l":3,"d":4},{"x":2.4,"h":12,"m":5,"l":0.05,"d":1},{"x":2.43,"h":18,"m":7,"l":3,"d":4},{"x":2.47,"h":15,"m":8,"l":3,"d":4},{"x":2.5,"h":12,"m":6,"l":2,"d":3},{"x":2.52,"h":10,"m":5,"l":0.005,"d":1},{"x":2.55,"h":15,"m":8,"l":3,"d":4},{"x":2.58,"h":18,"m":10,"l":0.1,"d":2},{"x":2.61,"h":20,"m":12,"l":4,"d":5},{"x":2.64,"h":15,"m":10,"l":3,"d":4},{"x":2.67,"h":25,"m":15,"l":5,"d":6},{"x":2.69,"h":30,"m":20,"l":0.002,"d":1},{"x":2.71,"h":170,"m":20,"l":2,"d":3},{"x":2.73,"h":40,"m":25,"l":3,"d":4},{"x":2.76,"h":200,"m":25,"l":1,"d":3},{"x":2.78,"h":60,"m":30,"l":3,"d":5},{"x":2.81,"h":260,"m":35,"l":5,"d":6},{"x":2.83,"h":80,"m":35,"l":3,"d":5},{"x":2.86,"h":300,"m":40,"l":8,"d":9},{"x":2.88,"h":100,"m":40,"l":5,"d":7},{"x":2.91,"h":390,"m":45,"l":15,"d":15},{"x":2.93,"h":150,"m":50,"l":10,"d":12},{"x":2.96,"h":500,"m":60,"l":20,"d":20},{"x":2.98,"h":200,"m":70,"l":20,"d":20},{"x":3,"h":1000,"m":80,"l":20,"d":20}
]
},
"vconcat": [
{"hconcat": [
{"width": 395, "height": 224, "title": {"text": "(a) Pointing error in FRP arc 1."}, "resolve": {"axis": {"x": "independent"}},
 "layer": [
  {"data": {"name": "a"}, "mark": {"type": "area", "stroke": "#111111", "strokeWidth": 0.7, "clip": true},
   "encoding": {
    "x": {"field": "x", "type": "quantitative", "scale": {"domain": [0, 4], "nice": false}, "axis": {"title": "Time [days]", "values": [0,1,2,3,4], "labelExpr": "''+datum.value", "gridColor": "#d4d4d4"}},
    "y": {"field": "l", "type": "quantitative", "scale": {"type": "log", "domain": [0.00001, 10]}, "axis": {"title": "εθ [deg]", "values": [0.00001,0.00002,0.00003,0.00004,0.00005,0.00006,0.00007,0.00008,0.00009,0.0001,0.0002,0.0003,0.0004,0.0005,0.0006,0.0007,0.0008,0.0009,0.001,0.002,0.003,0.004,0.005,0.006,0.007,0.008,0.009,0.01,0.02,0.03,0.04,0.05,0.06,0.07,0.08,0.09,0.1,0.2,0.3,0.4,0.5,0.6,0.7,0.8,0.9,1,2,3,4,5,6,7,8,9,10], "labelExpr": "abs(log(datum.value)/LN10-round(log(datum.value)/LN10))<0.001 ? '10'+(round(log(datum.value)/LN10)<0?'⁻':'')+['⁰','¹','²','³','⁴','⁵'][abs(round(log(datum.value)/LN10))] : ''", "gridColor": {"condition": {"test": "abs(log(datum.value)/LN10-round(log(datum.value)/LN10))<0.001", "value": "#d4d4d4"}, "value": "#ececec"}}},
    "y2": {"field": "h"},
    "color": {"datum": "Error envelope", "type": "nominal", "scale": {"domain": ["Mean Error", "Error envelope", "R1"], "range": ["#2030d8", "#c8c8c8", "#2ecc2e"]}, "legend": {"title": null, "orient": "bottom-right"}}}},
  {"data": {"name": "a"}, "mark": {"type": "area", "color": "#000000", "clip": true}, "encoding": {"x": {"field": "x", "type": "quantitative", "axis": {"orient": "top", "values": [0.2,0.4,0.6,0.8,1.2,1.4,1.6,1.8,2.2,2.4,2.6,2.8,3.2,3.4,3.6,3.8], "labels": false, "ticks": false, "domain": false, "title": null, "grid": true, "gridColor": "#ececec"}}, "y": {"field": "l", "type": "quantitative"}, "y2": {"field": "d"}}},
  {"data": {"name": "a"}, "mark": {"type": "line", "strokeWidth": 1, "clip": true}, "encoding": {"x": {"field": "x", "type": "quantitative", "axis": null}, "y": {"field": "m", "type": "quantitative"}, "color": {"datum": "Mean Error", "type": "nominal"}}},
  {"data": {"values": [{"x": 0, "r": 1.4}, {"x": 4, "r": 1.4}]}, "mark": {"type": "line", "strokeDash": [5, 3], "strokeWidth": 1.3, "clip": true}, "encoding": {"x": {"field": "x", "type": "quantitative", "axis": null}, "y": {"field": "r", "type": "quantitative"}, "color": {"datum": "R1", "type": "nominal"}}}
 ]},
{"width": 395, "height": 224, "title": {"text": "(b) Pointing error in CRP arc 1b."}, "resolve": {"axis": {"x": "independent"}},
 "layer": [
  {"data": {"name": "b"}, "mark": {"type": "area", "stroke": "#111111", "strokeWidth": 0.7, "clip": true},
   "encoding": {
    "x": {"field": "x", "type": "quantitative", "scale": {"domain": [0, 3], "nice": false}, "axis": {"title": "Time [days]", "values": [0,0.5,1,1.5,2,2.5,3], "labelExpr": "''+datum.value", "gridColor": "#d4d4d4"}},
    "y": {"field": "l", "type": "quantitative", "scale": {"type": "log", "domain": [0.00001, 10]}, "axis": {"title": "εθ [deg]", "values": [0.00001,0.00002,0.00003,0.00004,0.00005,0.00006,0.00007,0.00008,0.00009,0.0001,0.0002,0.0003,0.0004,0.0005,0.0006,0.0007,0.0008,0.0009,0.001,0.002,0.003,0.004,0.005,0.006,0.007,0.008,0.009,0.01,0.02,0.03,0.04,0.05,0.06,0.07,0.08,0.09,0.1,0.2,0.3,0.4,0.5,0.6,0.7,0.8,0.9,1,2,3,4,5,6,7,8,9,10], "labelExpr": "abs(log(datum.value)/LN10-round(log(datum.value)/LN10))<0.001 ? '10'+(round(log(datum.value)/LN10)<0?'⁻':'')+['⁰','¹','²','³','⁴','⁵'][abs(round(log(datum.value)/LN10))] : ''", "gridColor": {"condition": {"test": "abs(log(datum.value)/LN10-round(log(datum.value)/LN10))<0.001", "value": "#d4d4d4"}, "value": "#ececec"}}},
    "y2": {"field": "h"},
    "color": {"datum": "Error envelope", "type": "nominal", "scale": {"domain": ["Mean Error", "Error envelope", "R1"], "range": ["#2030d8", "#c8c8c8", "#2ecc2e"]}, "legend": {"title": null, "orient": "bottom-right"}}}},
  {"data": {"name": "b"}, "mark": {"type": "area", "color": "#000000", "clip": true}, "encoding": {"x": {"field": "x", "type": "quantitative", "axis": {"orient": "top", "values": [0.1,0.2,0.3,0.4,0.6,0.7,0.8,0.9,1.1,1.2,1.3,1.4,1.6,1.7,1.8,1.9,2.1,2.2,2.3,2.4,2.6,2.7,2.8,2.9], "labels": false, "ticks": false, "domain": false, "title": null, "grid": true, "gridColor": "#ececec"}}, "y": {"field": "l", "type": "quantitative"}, "y2": {"field": "d"}}},
  {"data": {"name": "b"}, "mark": {"type": "line", "strokeWidth": 1, "clip": true}, "encoding": {"x": {"field": "x", "type": "quantitative", "axis": null}, "y": {"field": "m", "type": "quantitative"}, "color": {"datum": "Mean Error", "type": "nominal"}}},
  {"data": {"values": [{"x": 0, "r": 1.4}, {"x": 3, "r": 1.4}]}, "mark": {"type": "line", "strokeDash": [5, 3], "strokeWidth": 1.3, "clip": true}, "encoding": {"x": {"field": "x", "type": "quantitative", "axis": null}, "y": {"field": "r", "type": "quantitative"}, "color": {"datum": "R1", "type": "nominal"}}}
 ]}
], "spacing": 74, "resolve": {"scale": {"color": "independent"}, "legend": {"color": "independent"}}},
{"hconcat": [
{"width": 395, "height": 224, "title": {"text": "(c) Position error in FRP arc 1."}, "resolve": {"axis": {"x": "independent"}},
 "layer": [
  {"data": {"name": "c"}, "mark": {"type": "area", "stroke": "#111111", "strokeWidth": 0.7, "clip": true},
   "encoding": {
    "x": {"field": "x", "type": "quantitative", "scale": {"domain": [0, 4], "nice": false}, "axis": {"title": "Time [days]", "values": [0,1,2,3,4], "labelExpr": "''+datum.value", "gridColor": "#d4d4d4"}},
    "y": {"field": "l", "type": "quantitative", "scale": {"type": "log", "domain": [0.01, 10000]}, "axis": {"title": "||εₚ|| [m]", "values": [0.01,0.02,0.03,0.04,0.05,0.06,0.07,0.08,0.09,0.1,0.2,0.3,0.4,0.5,0.6,0.7,0.8,0.9,1,2,3,4,5,6,7,8,9,10,20,30,40,50,60,70,80,90,100,200,300,400,500,600,700,800,900,1000,2000,3000,4000,5000,6000,7000,8000,9000,10000], "labelExpr": "abs(log(datum.value)/LN10-round(log(datum.value)/LN10))<0.001 ? '10'+(round(log(datum.value)/LN10)<0?'⁻':'')+['⁰','¹','²','³','⁴','⁵'][abs(round(log(datum.value)/LN10))] : ''", "gridColor": {"condition": {"test": "abs(log(datum.value)/LN10-round(log(datum.value)/LN10))<0.001", "value": "#d4d4d4"}, "value": "#ececec"}}},
    "y2": {"field": "h"},
    "color": {"datum": "Error envelope", "type": "nominal", "scale": {"domain": ["Mean Error", "Error envelope", "R2"], "range": ["#2030d8", "#c8c8c8", "#22cc22"]}, "legend": {"title": null, "orient": "bottom-right"}}}},
  {"data": {"name": "c"}, "mark": {"type": "area", "color": "#000000", "clip": true}, "encoding": {"x": {"field": "x", "type": "quantitative", "axis": {"orient": "top", "values": [0.2,0.4,0.6,0.8,1.2,1.4,1.6,1.8,2.2,2.4,2.6,2.8,3.2,3.4,3.6,3.8], "labels": false, "ticks": false, "domain": false, "title": null, "grid": true, "gridColor": "#ececec"}}, "y": {"field": "l", "type": "quantitative"}, "y2": {"field": "d"}}},
  {"data": {"name": "c"}, "mark": {"type": "line", "strokeWidth": 1, "interpolate": "step-after", "clip": true}, "encoding": {"x": {"field": "x", "type": "quantitative", "axis": null}, "y": {"field": "m", "type": "quantitative"}, "color": {"datum": "Mean Error", "type": "nominal"}}},
  {"data": {"values": [{"x": 0, "r": 1400}, {"x": 0.5, "r": 1300}, {"x": 1, "r": 1200}, {"x": 1.5, "r": 1120}, {"x": 2, "r": 1060}, {"x": 2.65, "r": 1050}]}, "mark": {"type": "line", "strokeDash": [4, 4], "strokeWidth": 4, "clip": true}, "encoding": {"x": {"field": "x", "type": "quantitative", "axis": null}, "y": {"field": "r", "type": "quantitative"}, "color": {"datum": "R2", "type": "nominal"}}},
  {"data": {"values": [{"x": 2.65, "rl": 900, "rh": 1200}, {"x": 3, "rl": 950, "rh": 1230}, {"x": 3.5, "rl": 1050, "rh": 1350}, {"x": 4, "rl": 1250, "rh": 1550}]}, "mark": {"type": "area", "clip": true}, "encoding": {"x": {"field": "x", "type": "quantitative", "axis": null}, "y": {"field": "rl", "type": "quantitative"}, "y2": {"field": "rh"}, "color": {"datum": "R2", "type": "nominal"}}}
 ]},
{"width": 395, "height": 224, "title": {"text": "(d) Position error in CRP arc 1b."}, "resolve": {"axis": {"x": "independent"}},
 "layer": [
  {"data": {"name": "d"}, "mark": {"type": "area", "stroke": "#111111", "strokeWidth": 0.7, "clip": true},
   "encoding": {
    "x": {"field": "x", "type": "quantitative", "scale": {"domain": [0, 3], "nice": false}, "axis": {"title": "Time [days]", "values": [0,0.5,1,1.5,2,2.5,3], "labelExpr": "''+datum.value", "gridColor": "#d4d4d4"}},
    "y": {"field": "l", "type": "quantitative", "scale": {"type": "log", "domain": [0.01, 10000]}, "axis": {"title": "||εₚ|| [m]", "values": [0.01,0.02,0.03,0.04,0.05,0.06,0.07,0.08,0.09,0.1,0.2,0.3,0.4,0.5,0.6,0.7,0.8,0.9,1,2,3,4,5,6,7,8,9,10,20,30,40,50,60,70,80,90,100,200,300,400,500,600,700,800,900,1000,2000,3000,4000,5000,6000,7000,8000,9000,10000], "labelExpr": "abs(log(datum.value)/LN10-round(log(datum.value)/LN10))<0.001 ? '10'+(round(log(datum.value)/LN10)<0?'⁻':'')+['⁰','¹','²','³','⁴','⁵'][abs(round(log(datum.value)/LN10))] : ''", "gridColor": {"condition": {"test": "abs(log(datum.value)/LN10-round(log(datum.value)/LN10))<0.001", "value": "#d4d4d4"}, "value": "#ececec"}}},
    "y2": {"field": "h"},
    "color": {"datum": "Error envelope", "type": "nominal", "scale": {"domain": ["Mean Error", "Error envelope", "R2"], "range": ["#2030d8", "#c8c8c8", "#22cc22"]}, "legend": {"title": null, "orient": "none", "legendX": 144, "legendY": 162}}}},
  {"data": {"name": "d"}, "mark": {"type": "area", "color": "#000000", "clip": true}, "encoding": {"x": {"field": "x", "type": "quantitative", "axis": {"orient": "top", "values": [0.1,0.2,0.3,0.4,0.6,0.7,0.8,0.9,1.1,1.2,1.3,1.4,1.6,1.7,1.8,1.9,2.1,2.2,2.3,2.4,2.6,2.7,2.8,2.9], "labels": false, "ticks": false, "domain": false, "title": null, "grid": true, "gridColor": "#ececec"}}, "y": {"field": "l", "type": "quantitative"}, "y2": {"field": "d"}}},
  {"data": {"name": "d"}, "mark": {"type": "line", "strokeWidth": 1, "interpolate": "step-after", "clip": true}, "encoding": {"x": {"field": "x", "type": "quantitative", "axis": null}, "y": {"field": "m", "type": "quantitative"}, "color": {"datum": "Mean Error", "type": "nominal"}}},
  {"data": {"values": [{"x": 0, "r": 1550}, {"x": 0.5, "r": 1420}, {"x": 1, "r": 1260}, {"x": 1.5, "r": 1100}, {"x": 2, "r": 900}]}, "mark": {"type": "line", "strokeDash": [4, 4], "strokeWidth": 4, "clip": true}, "encoding": {"x": {"field": "x", "type": "quantitative", "axis": null}, "y": {"field": "r", "type": "quantitative"}, "color": {"datum": "R2", "type": "nominal"}}},
  {"data": {"values": [{"x": 2, "rl": 850, "rh": 950}, {"x": 2.25, "rl": 700, "rh": 900}, {"x": 2.5, "rl": 500, "rh": 750}, {"x": 2.75, "rl": 300, "rh": 550}, {"x": 3, "rl": 180, "rh": 420}]}, "mark": {"type": "area", "clip": true}, "encoding": {"x": {"field": "x", "type": "quantitative", "axis": null}, "y": {"field": "rl", "type": "quantitative"}, "y2": {"field": "rh"}, "color": {"datum": "R2", "type": "nominal"}}}
 ]}
], "spacing": 74, "resolve": {"scale": {"color": "independent"}, "legend": {"color": "independent"}}},
{"hconcat": [
{"width": 395, "height": 224, "title": {"text": "(e) IP error in FRP arc 1."}, "resolve": {"axis": {"x": "independent"}},
 "layer": [
  {"data": {"name": "e"}, "mark": {"type": "area", "stroke": "#111111", "strokeWidth": 0.7, "clip": true},
   "encoding": {
    "x": {"field": "x", "type": "quantitative", "scale": {"domain": [0, 4], "nice": false}, "axis": {"title": "Time [days]", "values": [0,1,2,3,4], "labelExpr": "''+datum.value", "gridColor": "#d4d4d4"}},
    "y": {"field": "l", "type": "quantitative", "scale": {"type": "log", "domain": [0.001, 1000]}, "axis": {"title": "εⁿCoF [px]", "values": [0.001,0.002,0.003,0.004,0.005,0.006,0.007,0.008,0.009,0.01,0.02,0.03,0.04,0.05,0.06,0.07,0.08,0.09,0.1,0.2,0.3,0.4,0.5,0.6,0.7,0.8,0.9,1,2,3,4,5,6,7,8,9,10,20,30,40,50,60,70,80,90,100,200,300,400,500,600,700,800,900,1000], "labelExpr": "abs(log(datum.value)/LN10-round(log(datum.value)/LN10))<0.001 ? '10'+(round(log(datum.value)/LN10)<0?'⁻':'')+['⁰','¹','²','³','⁴','⁵'][abs(round(log(datum.value)/LN10))] : ''", "gridColor": {"condition": {"test": "abs(log(datum.value)/LN10-round(log(datum.value)/LN10))<0.001", "value": "#d4d4d4"}, "value": "#ececec"}}},
    "y2": {"field": "h"},
    "color": {"datum": "Error envelope", "type": "nominal", "scale": {"domain": ["Mean Error", "Error envelope", "R3"], "range": ["#2030d8", "#c8c8c8", "#2ecc2e"]}, "legend": {"title": null, "orient": "bottom-left"}}}},
  {"data": {"name": "e"}, "mark": {"type": "area", "color": "#000000", "clip": true}, "encoding": {"x": {"field": "x", "type": "quantitative", "axis": {"orient": "top", "values": [0.2,0.4,0.6,0.8,1.2,1.4,1.6,1.8,2.2,2.4,2.6,2.8,3.2,3.4,3.6,3.8], "labels": false, "ticks": false, "domain": false, "title": null, "grid": true, "gridColor": "#ececec"}}, "y": {"field": "l", "type": "quantitative"}, "y2": {"field": "d"}}},
  {"data": {"name": "e"}, "mark": {"type": "line", "strokeWidth": 1, "interpolate": "step-after", "clip": true}, "encoding": {"x": {"field": "x", "type": "quantitative", "axis": null}, "y": {"field": "m", "type": "quantitative"}, "color": {"datum": "Mean Error", "type": "nominal"}}},
  {"data": {"values": [{"x": 0, "r": 19}, {"x": 4, "r": 19}]}, "mark": {"type": "line", "strokeDash": [5, 3], "strokeWidth": 1.3, "clip": true}, "encoding": {"x": {"field": "x", "type": "quantitative", "axis": null}, "y": {"field": "r", "type": "quantitative"}, "color": {"datum": "R3", "type": "nominal"}}}
 ]},
{"width": 395, "height": 224, "title": {"text": "(f) IP error in CRP arc 1b."}, "resolve": {"axis": {"x": "independent"}},
 "layer": [
  {"data": {"name": "f"}, "mark": {"type": "area", "stroke": "#111111", "strokeWidth": 0.7, "clip": true},
   "encoding": {
    "x": {"field": "x", "type": "quantitative", "scale": {"domain": [0, 3], "nice": false}, "axis": {"title": "Time [days]", "values": [0,0.5,1,1.5,2,2.5,3], "labelExpr": "''+datum.value", "gridColor": "#d4d4d4"}},
    "y": {"field": "l", "type": "quantitative", "scale": {"type": "log", "domain": [0.001, 1000]}, "axis": {"title": "εⁿCoF [px]", "values": [0.001,0.002,0.003,0.004,0.005,0.006,0.007,0.008,0.009,0.01,0.02,0.03,0.04,0.05,0.06,0.07,0.08,0.09,0.1,0.2,0.3,0.4,0.5,0.6,0.7,0.8,0.9,1,2,3,4,5,6,7,8,9,10,20,30,40,50,60,70,80,90,100,200,300,400,500,600,700,800,900,1000], "labelExpr": "abs(log(datum.value)/LN10-round(log(datum.value)/LN10))<0.001 ? '10'+(round(log(datum.value)/LN10)<0?'⁻':'')+['⁰','¹','²','³','⁴','⁵'][abs(round(log(datum.value)/LN10))] : ''", "gridColor": {"condition": {"test": "abs(log(datum.value)/LN10-round(log(datum.value)/LN10))<0.001", "value": "#d4d4d4"}, "value": "#ececec"}}},
    "y2": {"field": "h"},
    "color": {"datum": "Error envelope", "type": "nominal", "scale": {"domain": ["Mean Error", "Error envelope", "R3"], "range": ["#2030d8", "#c8c8c8", "#2ecc2e"]}, "legend": {"title": null, "orient": "bottom-right"}}}},
  {"data": {"name": "f"}, "mark": {"type": "area", "color": "#000000", "clip": true}, "encoding": {"x": {"field": "x", "type": "quantitative", "axis": {"orient": "top", "values": [0.1,0.2,0.3,0.4,0.6,0.7,0.8,0.9,1.1,1.2,1.3,1.4,1.6,1.7,1.8,1.9,2.1,2.2,2.3,2.4,2.6,2.7,2.8,2.9], "labels": false, "ticks": false, "domain": false, "title": null, "grid": true, "gridColor": "#ececec"}}, "y": {"field": "l", "type": "quantitative"}, "y2": {"field": "d"}}},
  {"data": {"name": "f"}, "mark": {"type": "line", "strokeWidth": 1, "interpolate": "step-after", "clip": true}, "encoding": {"x": {"field": "x", "type": "quantitative", "axis": null}, "y": {"field": "m", "type": "quantitative"}, "color": {"datum": "Mean Error", "type": "nominal"}}},
  {"data": {"values": [{"x": 0, "r": 19}, {"x": 3, "r": 19}]}, "mark": {"type": "line", "strokeDash": [5, 3], "strokeWidth": 1.3, "clip": true}, "encoding": {"x": {"field": "x", "type": "quantitative", "axis": null}, "y": {"field": "r", "type": "quantitative"}, "color": {"datum": "R3", "type": "nominal"}}}
 ]}
], "spacing": 74, "resolve": {"scale": {"color": "independent"}, "legend": {"color": "independent"}}}
],
"spacing": 15,
"resolve": {"scale": {"color": "independent"}, "legend": {"color": "independent"}},
"config": {
 "font": "Liberation Serif",
 "view": {"stroke": "#a0a0a0"},
 "style": {"guide-label": {"font": "Liberation Serif"}, "guide-title": {"font": "Liberation Serif"}},
 "axis": {"labelFont": "Liberation Serif", "labelFontSize": 15, "labelColor": "#222222", "titleFont": "Liberation Serif", "titleFontSize": 18, "titleFontWeight": "normal", "titleColor": "#222222", "domain": false, "ticks": false, "labelPadding": 5, "titlePadding": 5, "labelOverlap": false, "labelFlush": false},
 "legend": {"labelFont": "Liberation Serif", "labelFontSize": 14, "labelColor": "#222222", "fillColor": "#ffffff", "strokeColor": "#b0b0b0", "padding": 3, "rowPadding": 0, "symbolSize": 220, "labelOffset": 3, "offset": 12, "symbolStrokeWidth": 1.5, "symbolType": "stroke"},
 "title": {"orient": "bottom", "offset": 25, "fontSize": 18, "font": "Liberation Serif", "fontWeight": "normal", "color": "#222222", "anchor": "middle", "frame": "group"}
}
}
